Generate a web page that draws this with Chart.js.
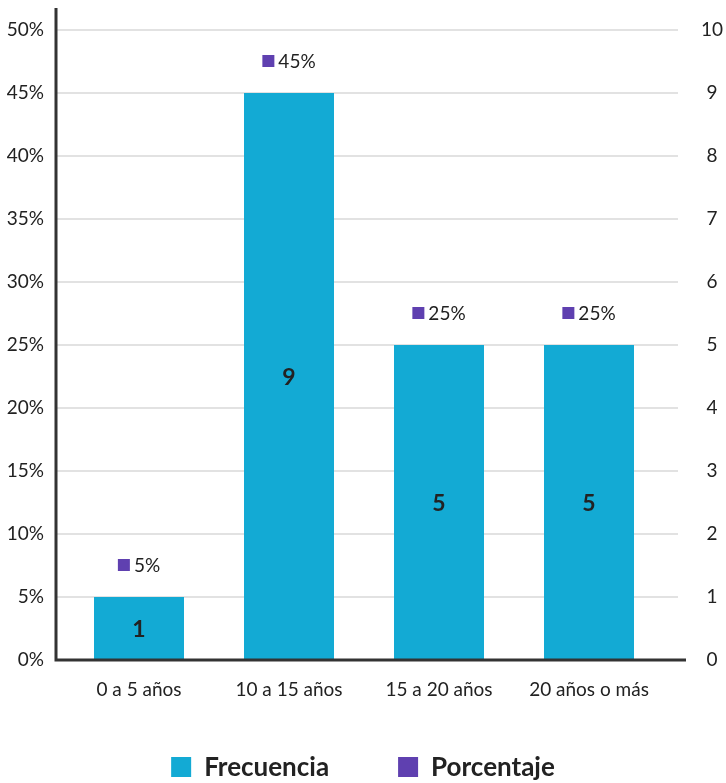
<!DOCTYPE html>
<html lang="es">
<head>
    <meta charset="UTF-8">
    <title>Frecuencia y porcentaje por antigüedad</title>
    <script src="https://cdn.jsdelivr.net/npm/chart.js"></script>
    <style>
        body {
            margin: 0;
            background: #ffffff;
        }
        #wrap {
            width: 726px;
            height: 783px;
        }
    </style>
</head>
<body>
    <div id="wrap">
        <canvas id="chart" width="726" height="783"></canvas>
    </div>

    <script>
        // Data
        const categories = ['0 a 5 años', '10 a 15 años', '15 a 20 años', '20 años o más'];
        const frecuencia = [1, 9, 5, 5];
        const porcentaje = [5, 45, 25, 25];

        const cyan = '#13aad4';
        const purple = '#5f40b0';
        const textColor = '#222222';
        const fontName = 'Lato, "Open Sans", sans-serif';

        // Gridlines and axis lines drawn a bit wider than the plot area
        const frame = {
            id: 'frame',
            beforeDatasetsDraw(chart) {
                const ctx = chart.ctx;
                const y = chart.scales.y;
                ctx.save();
                ctx.strokeStyle = '#e2e2e2';
                ctx.lineWidth = 2;
                y.ticks.forEach(t => {
                    const py = Math.round(y.getPixelForValue(t.value));
                    ctx.beginPath();
                    ctx.moveTo(56, py);
                    ctx.lineTo(678, py);
                    ctx.stroke();
                });
                ctx.restore();
            },
            afterDatasetsDraw(chart) {
                const ctx = chart.ctx;
                const bottom = chart.scales.y.getPixelForValue(0);
                ctx.save();
                ctx.strokeStyle = '#333333';
                ctx.lineWidth = 3;
                ctx.beginPath();
                ctx.moveTo(56, 8);
                ctx.lineTo(56, bottom + 1.5);
                ctx.moveTo(54.5, bottom);
                ctx.lineTo(686, bottom);
                ctx.stroke();
                ctx.restore();
            }
        };

        // Value labels: count inside each bar, percentage with marker above it
        const labels = {
            id: 'labels',
            afterDatasetsDraw(chart) {
                const ctx = chart.ctx;
                ctx.save();
                ctx.textBaseline = 'middle';

                const bars = chart.getDatasetMeta(0).data;
                ctx.font = 'bold 23px ' + fontName;
                ctx.fillStyle = textColor;
                ctx.textAlign = 'center';
                bars.forEach((b, i) => {
                    ctx.fillText(String(frecuencia[i]), b.x, (b.y + b.base) / 2 + 1);
                });

                const pts = chart.getDatasetMeta(1).data;
                ctx.font = '19px ' + fontName;
                ctx.textAlign = 'left';
                pts.forEach((p, i) => {
                    const txt = porcentaje[i] + '%';
                    const tw = ctx.measureText(txt).width;
                    const box = 12, gap = 4;
                    const x0 = p.x - (box + gap + tw) / 2;
                    const cy = p.y - 32;
                    ctx.fillStyle = purple;
                    ctx.fillRect(x0, cy - box / 2, box, box);
                    ctx.fillStyle = textColor;
                    ctx.fillText(txt, x0 + box + gap, cy + 1);
                });
                ctx.restore();
            }
        };

        // Legend along the bottom edge
        const legendRow = {
            id: 'legendRow',
            afterDraw(chart) {
                const ctx = chart.ctx;
                const items = chart.data.datasets.map(d => ({ label: d.label, color: d.backgroundColor }));
                const box = 20, gap = 13, spacing = 69;
                ctx.save();
                ctx.font = 'bold 26px ' + fontName;
                ctx.textBaseline = 'middle';
                ctx.textAlign = 'left';
                const widths = items.map(it => box + gap + ctx.measureText(it.label).width);
                const total = widths.reduce((a, b) => a + b, 0) + spacing * (items.length - 1);
                let x = (chart.width - total) / 2;
                const cy = 767;
                items.forEach((it, i) => {
                    ctx.fillStyle = it.color;
                    ctx.fillRect(x, cy - box / 2, box, box);
                    ctx.fillStyle = textColor;
                    ctx.fillText(it.label, x + box + gap, cy + 1);
                    x += widths[i] + spacing;
                });
                ctx.restore();
            }
        };

        new Chart(document.getElementById('chart'), {
            type: 'bar',
            data: {
                labels: categories,
                datasets: [
                    {
                        label: 'Frecuencia',
                        data: frecuencia,
                        backgroundColor: cyan,
                        yAxisID: 'y1',
                        barPercentage: 0.6,
                        categoryPercentage: 1.0,
                        order: 2
                    },
                    {
                        type: 'line',
                        label: 'Porcentaje',
                        data: porcentaje,
                        yAxisID: 'y',
                        showLine: false,
                        pointRadius: 0,
                        pointHoverRadius: 0,
                        backgroundColor: purple,
                        borderColor: purple,
                        borderWidth: 0,
                        order: 1
                    }
                ]
            },
            options: {
                responsive: false,
                animation: false,
                layout: {
                    autoPadding: false,
                    padding: { top: 30, bottom: 61 }
                },
                plugins: {
                    tooltip: { enabled: false },
                    legend: { display: false }
                },
                scales: {
                    x: {
                        grid: { display: false },
                        border: { display: false },
                        ticks: {
                            color: textColor,
                            padding: 10,
                            font: { family: fontName, size: 19 }
                        },
                        afterFit(scale) { scale.height = 62; }
                    },
                    y: {
                        position: 'left',
                        min: 0,
                        max: 50,
                        grid: { display: false },
                        border: { display: false },
                        ticks: {
                            stepSize: 5,
                            padding: 12,
                            color: textColor,
                            font: { family: fontName, size: 19 },
                            callback: v => v + '%'
                        },
                        afterFit(scale) { scale.width = 64; scale.paddingTop = 0; }
                    },
                    y1: {
                        position: 'right',
                        min: 0,
                        max: 10,
                        grid: { display: false },
                        border: { display: false },
                        ticks: {
                            stepSize: 1,
                            padding: 29,
                            crossAlign: 'center',
                            color: textColor,
                            font: { family: fontName, size: 19 }
                        },
                        afterFit(scale) { scale.width = 62; scale.paddingTop = 0; }
                    }
                }
            },
            plugins: [frame, labels, legendRow]
        });
    </script>
</body>
</html>
